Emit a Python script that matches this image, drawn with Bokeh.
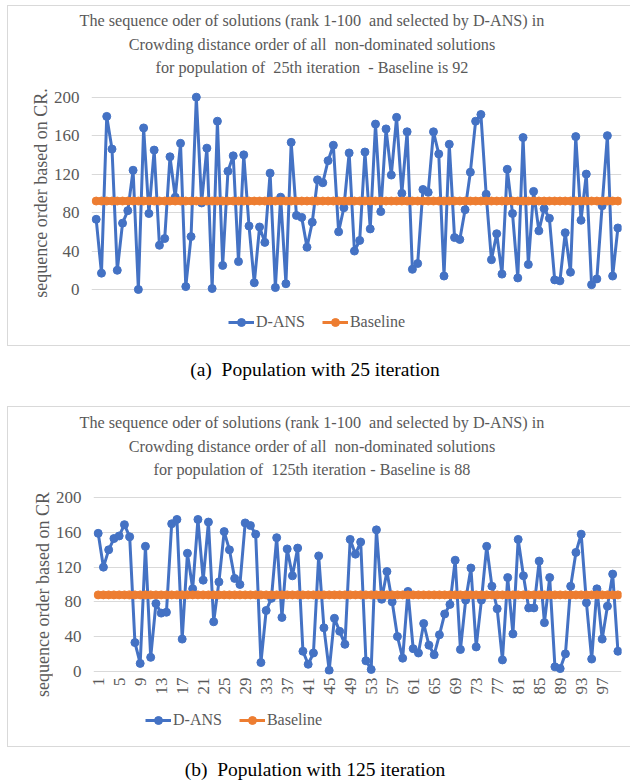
import numpy as np
from bokeh.plotting import figure
from bokeh.models import Range1d, FixedTicker, Legend, LegendItem, Div, Spacer
from bokeh.layouts import column, row
from bokeh.embed import file_html
from bokeh.resources import INLINE

# ---------------- data ----------------
positions = list(range(1, 101))

dans_25 = [73, 17, 180, 146, 20, 69, 82, 124, 0, 168,
           79, 145, 46, 53, 138, 96, 152, 3, 55, 200,
           90, 147, 1, 175, 25, 123, 139, 29, 140, 66,
           7, 65, 49, 121, 2, 96, 6, 153, 77, 75,
           44, 70, 114, 111, 134, 150, 60, 85, 142, 40,
           51, 143, 63, 172, 81, 167, 119, 179, 100, 164,
           21, 27, 104, 101, 164, 141, 14, 151, 54, 52,
           83, 122, 175, 182, 99, 31, 58, 16, 125, 79,
           12, 158, 26, 102, 61, 84, 74, 10, 9, 59,
           18, 159, 72, 120, 5, 11, 87, 160, 14, 64]
baseline_25 = 92

dans_125 = [159, 120, 140, 153, 156, 169, 155, 33, 9, 144,
            16, 78, 67, 68, 170, 175, 37, 136, 95, 175,
            105, 172, 57, 103, 161, 140, 107, 100, 171, 168,
            158, 10, 70, 84, 154, 62, 141, 110, 142, 23,
            8, 21, 133, 50, 1, 61, 46, 31, 152, 135,
            149, 12, 2, 163, 83, 115, 80, 40, 15, 92,
            26, 21, 55, 30, 19, 42, 66, 77, 128, 25,
            82, 119, 28, 82, 144, 98, 72, 13, 108, 43,
            152, 110, 73, 73, 127, 56, 108, 5, 3, 20,
            98, 137, 158, 79, 14, 95, 37, 75, 112, 23]
baseline_125 = 88

y_ticks = [0, 40, 80, 120, 160, 200]
x_ticks_125 = list(range(1, 101, 4))

title_25 = ["The sequence oder of solutions (rank 1-100  and selected by D-ANS) in",
            "Crowding distance order of all  non-dominated solutions",
            "for population of  25th iteration  - Baseline is 92"]
title_125 = ["The sequence oder of solutions (rank 1-100  and selected by D-ANS) in",
             "Crowding distance order of all  non-dominated solutions",
             "for population of  125th iteration - Baseline is 88"]
ylabel_25 = "sequence order based on CR."
ylabel_125 = "sequence order based on CR"
caption_25 = "(a)  Population with 25 iteration"
caption_125 = "(b)  Population with 125 iteration"
series_names = ["D-ANS", "Baseline"]

# ---------------- style ----------------
FONT = "Liberation Serif"
GRAY = "#595959"
BLUE = "#4472C4"
ORANGE = "#ED7D31"
GRID = "#d9d9d9"
IW = 622   # inner panel width


def hline(w):
    return Div(text="", width=w, height=1, margin=0, styles={"background-color": GRID})


def vline(h):
    return Div(text="", width=1, height=h, margin=0, styles={"background-color": GRID})


def title_div(lines, h, pad):
    body = "<br>".join(lines)
    html = (f"<div style=\"font-family:'{FONT}';font-size:16.2px;color:{GRAY};"
            f"text-align:center;white-space:pre;line-height:23.5px;padding-top:{pad}px;"
            f"padding-right:7px;width:{IW - 7}px\">{body}</div>")
    return Div(text=html, width=IW, height=h, margin=0)


def caption(text, h, pad):
    html = (f"<div style=\"font-family:'{FONT}';font-size:19.5px;color:#000;"
            f"text-align:center;white-space:pre;line-height:24px;padding-top:{pad}px;"
            f"padding-left:24px;width:{630 - 24}px\">{text}</div>")
    return Div(text=html, width=630, height=h, margin=0)


def ylabel_div(text, w, h):
    html = (f"<div style=\"width:{w}px;height:{h - 7}px;display:flex;align-items:center;"
            f"justify-content:flex-start;padding-left:24px;box-sizing:border-box\">"
            f"<span style=\"writing-mode:vertical-rl;transform:rotate(180deg);"
            f"white-space:nowrap;font-family:'{FONT}';font-size:18px;color:{GRAY};"
            f"line-height:22px\">{text}</span></div>")
    return Div(text=html, width=w, height=h, margin=0)


def chart(values, base, ylabel, width, height, left, top, bottom, yr, show_x):
    p = figure(width=width, height=height, output_backend="svg", toolbar_location=None,
               x_range=Range1d(0.108, 100.68), y_range=Range1d(*yr),
               min_border_left=left, min_border_right=9,
               min_border_top=top, min_border_bottom=bottom,
               x_axis_location="below" if show_x else None)
    p.outline_line_color = None
    p.background_fill_color = "white"
    p.border_fill_color = "white"

    p.line(positions, values, line_color=BLUE, line_width=3)
    p.scatter(positions, values, size=8, fill_color=BLUE, line_color=BLUE)
    base_vals = [base] * len(positions)
    p.line(positions, base_vals, line_color=ORANGE, line_width=3)
    p.scatter(positions, base_vals, size=8, fill_color=ORANGE, line_color=ORANGE)

    p.yaxis.ticker = FixedTicker(ticks=y_ticks)
    p.ygrid.ticker = FixedTicker(ticks=y_ticks)
    p.ygrid.grid_line_color = GRID
    p.xgrid.grid_line_color = None
    p.yaxis.axis_line_color = None
    p.yaxis.major_tick_line_color = None
    p.yaxis.major_tick_out = 0
    p.yaxis.major_tick_in = 0
    p.yaxis.minor_tick_line_color = None
    p.yaxis.minor_tick_out = 0
    p.yaxis.major_label_standoff = 12
    p.yaxis.major_label_text_font = FONT
    p.yaxis.major_label_text_font_size = "17px"
    p.yaxis.major_label_text_color = GRAY
    if ylabel:
        p.yaxis.axis_label = ylabel
        p.yaxis.axis_label_text_font = FONT
        p.yaxis.axis_label_text_font_size = "18px"
        p.yaxis.axis_label_text_font_style = "normal"
        p.yaxis.axis_label_text_color = GRAY
        p.yaxis.axis_label_standoff = 0

    if show_x:
        p.xaxis.ticker = FixedTicker(ticks=x_ticks_125)
        p.xaxis.major_label_orientation = np.pi / 2
        p.xaxis.axis_line_color = None
        p.xaxis.major_tick_line_color = None
        p.xaxis.major_tick_out = 0
        p.xaxis.major_tick_in = 0
        p.xaxis.minor_tick_line_color = None
        p.xaxis.minor_tick_out = 0
        p.xaxis.major_label_standoff = 3
        p.xaxis.major_label_text_font = FONT
        p.xaxis.major_label_text_font_size = "17px"
        p.xaxis.major_label_text_color = GRAY
    return p


def legend_fig(values, base, height, vy):
    # same series, but the view range is set away from the data so only the legend shows
    lf = figure(width=IW, height=height, output_backend="svg", toolbar_location=None,
                x_range=Range1d(-20, -10), y_range=Range1d(-20, -10), min_border=0,
                x_axis_location=None, y_axis_location=None)
    lf.outline_line_color = None
    lf.grid.grid_line_color = None
    base_vals = [base] * len(positions)
    r1 = lf.line(positions, values, line_color=BLUE, line_width=3)
    m1 = lf.scatter(positions, values, size=8, fill_color=BLUE, line_color=BLUE)
    r2 = lf.line(positions, base_vals, line_color=ORANGE, line_width=3)
    m2 = lf.scatter(positions, base_vals, size=8, fill_color=ORANGE, line_color=ORANGE)
    leg = Legend(items=[LegendItem(label=series_names[0], renderers=[r1, m1]),
                        LegendItem(label=series_names[1], renderers=[r2, m2])],
                 orientation="horizontal", location=(137, vy),
                 glyph_width=26, glyph_height=20, label_standoff=2, spacing=17,
                 padding=0, margin=0, border_line_color=None,
                 background_fill_alpha=0,
                 label_text_font=FONT, label_text_font_size="16px",
                 label_text_color=GRAY)
    lf.add_layout(leg, "center")
    return lf


def boxed(inner):
    body = row(vline(339), inner, spacing=0, margin=0)
    box = column(hline(IW + 1), body, hline(IW + 1), spacing=0, margin=0)
    return row(Spacer(width=7, height=341, margin=0), box, spacing=0, margin=0)


# panel (a): axis title drawn by the axis itself
inner_a = column(title_div(title_25, 79, 4),
                 chart(dans_25, baseline_25, ylabel_25, IW, 215, 83, 6, 6,
                       (-5.2, 205.9), False),
                 legend_fig(dans_25, baseline_25, 45, 13),
                 spacing=0, margin=0)

# panel (b): axis title placed beside the chart so it can sit lower than the frame centre
inner_b = column(title_div(title_125, 81, 5),
                 row(ylabel_div(ylabel_125, 44, 220),
                     chart(dans_125, baseline_125, None, IW - 44, 220, 39, 4, 34,
                           (-3.8, 206.1), True),
                     spacing=0, margin=0),
                 legend_fig(dans_125, baseline_125, 38, 16),
                 spacing=0, margin=0)

layout = column(Spacer(width=630, height=5, margin=0), boxed(inner_a),
                caption(caption_25, 60, 12), boxed(inner_b), caption(caption_125, 35, 11),
                spacing=0, margin=0)

open("out.html", "w").write(file_html(layout, INLINE))
